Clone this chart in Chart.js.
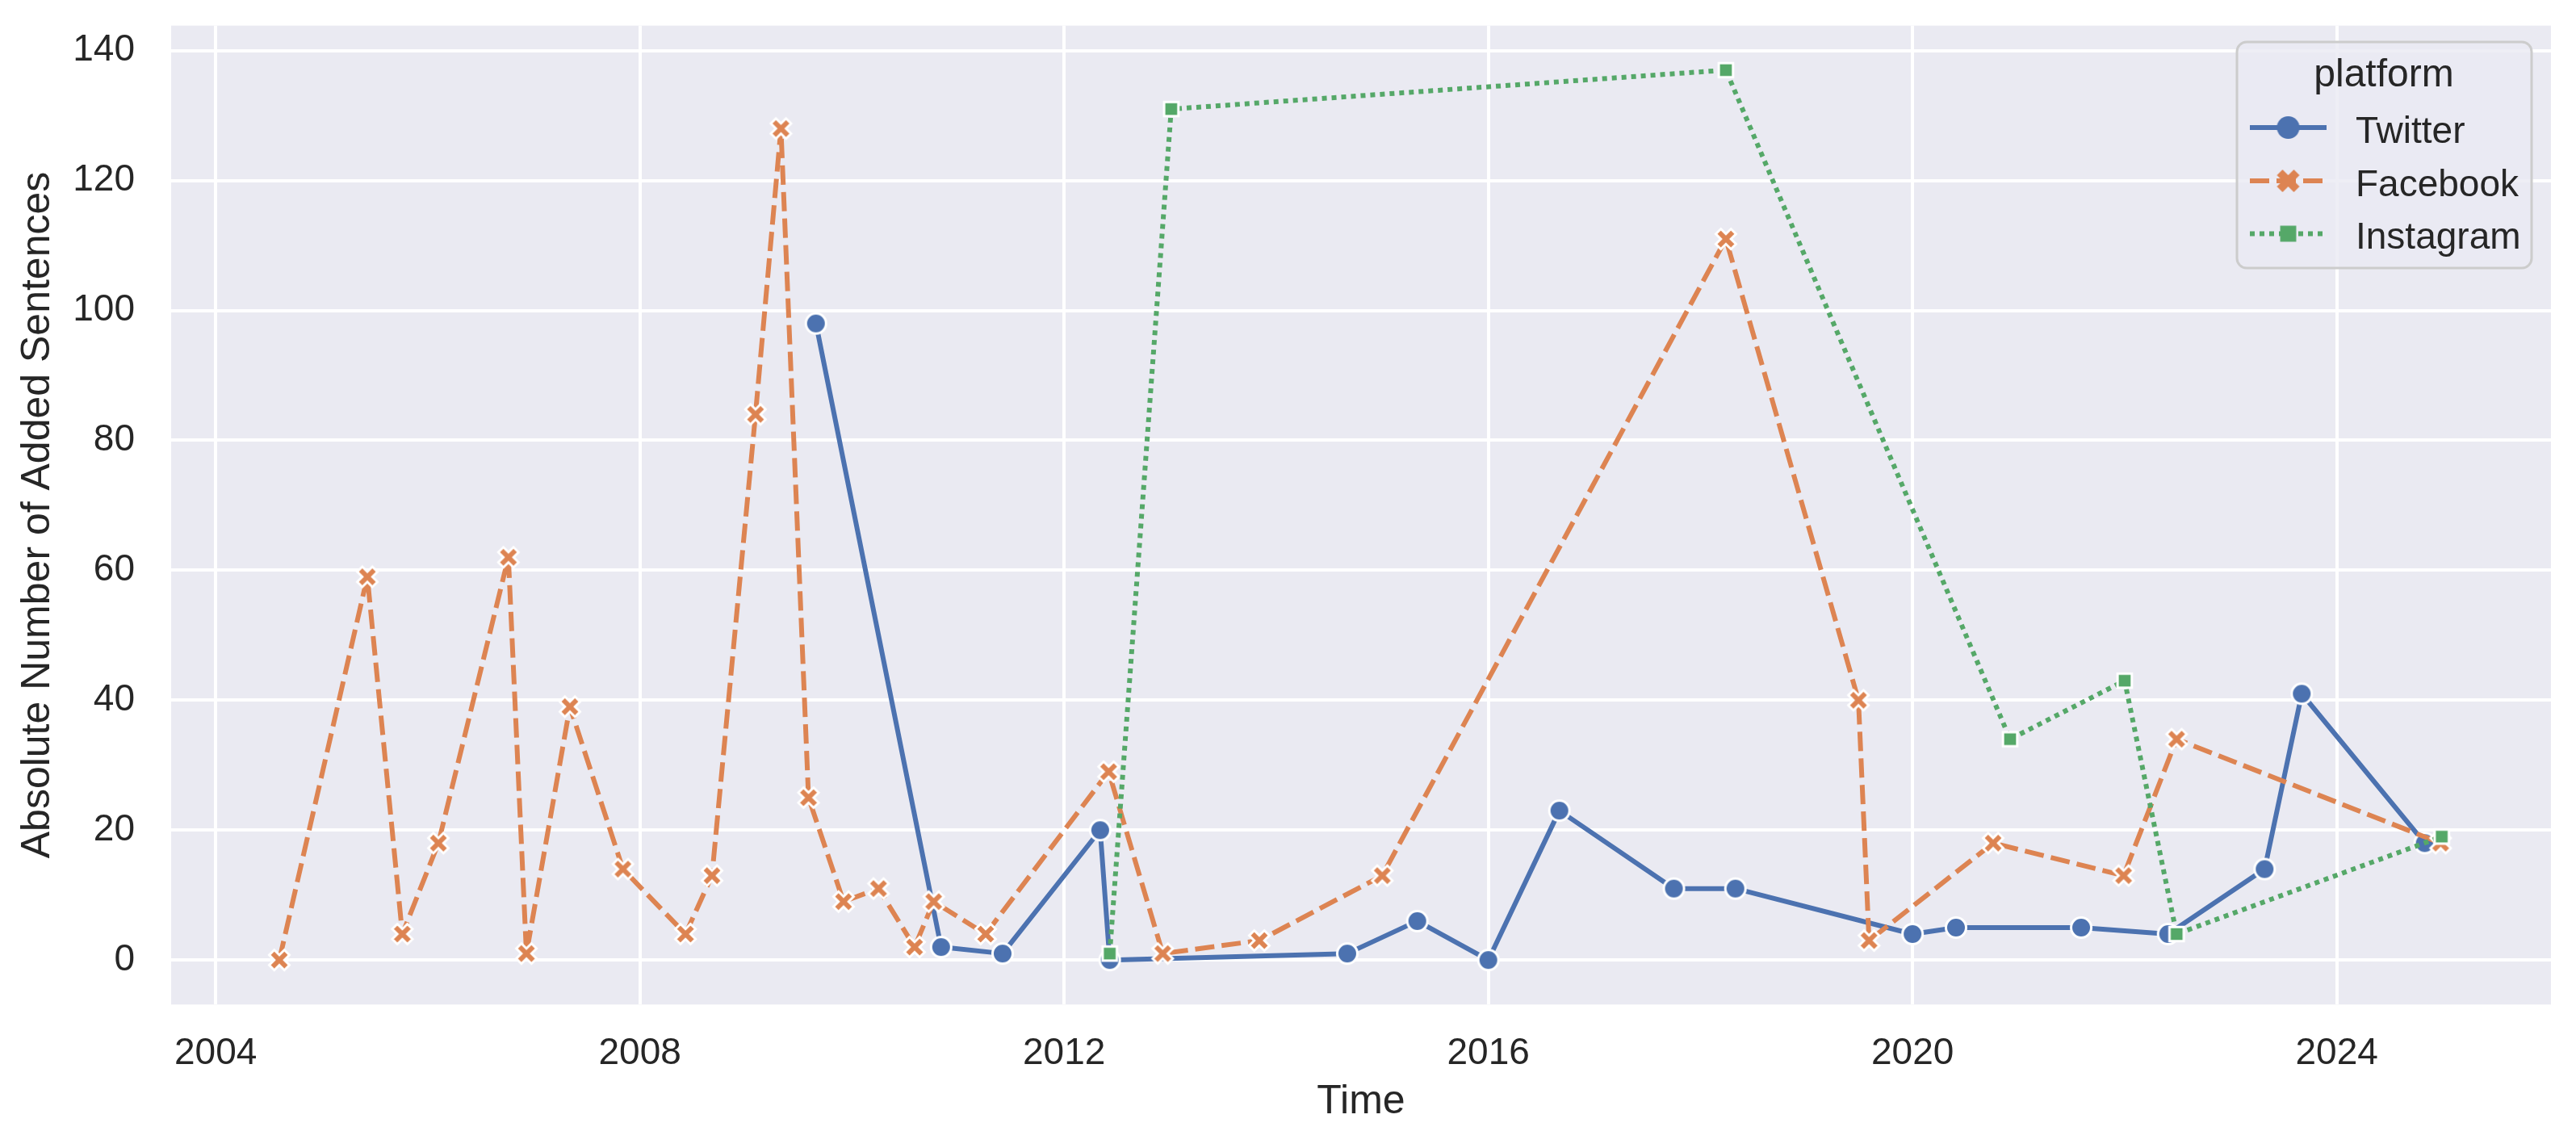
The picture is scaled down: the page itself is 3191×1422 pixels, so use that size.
<!DOCTYPE html>
<html>
<head>
<meta charset="utf-8">
<script src="https://cdn.jsdelivr.net/npm/chart.js@4.4.1/dist/chart.umd.min.js"></script>
<style>
  body { margin: 0; background: #ffffff; }
</style>
</head>
<body>
<canvas id="myChart" width="3191" height="1422"></canvas>
<script>
// Data (time as decimal years)

const twitter_time = [2009.66, 2010.84, 2011.42, 2012.34, 2012.43, 2014.67, 2015.33, 2016.00, 2016.67,
                      2017.75, 2018.33, 2020.00, 2020.41, 2021.59, 2022.41, 2023.32, 2023.67, 2024.83];
const twitter_values = [98, 2, 1, 20, 0, 1, 6, 0, 23, 11, 11, 4, 5, 5, 4, 14, 41, 18];

const facebook_time = [2004.60, 2005.43, 2005.76, 2006.10, 2006.76, 2006.93, 2007.34, 2007.84, 2008.43,
                       2008.68, 2009.09, 2009.33, 2009.59, 2009.92, 2010.25, 2010.59, 2010.77, 2011.26,
                       2012.42, 2012.93, 2013.84, 2015.00, 2018.24, 2019.49, 2019.59, 2020.76, 2021.99,
                       2022.49, 2024.98];
const facebook_values = [0, 59, 4, 18, 62, 1, 39, 14, 4, 13, 84, 128, 25, 9, 11, 2, 9, 4, 29, 1, 3, 13,
                         111, 40, 3, 18, 13, 34, 18];

const instagram_time = [2012.43, 2013.01, 2018.24, 2020.92, 2022.00, 2022.49, 2024.99];
const instagram_values = [1, 131, 137, 34, 43, 4, 19];

const year_ticks = [2004, 2008, 2012, 2016, 2020, 2024];
const value_ticks = [0, 20, 40, 60, 80, 100, 120, 140];

// Style

const FONT = '"Liberation Sans", Arial, sans-serif';
const TEXT_COLOR = '#262626';
const BLUE = '#4c72b0';
const ORANGE = '#dd8452';
const GREEN = '#55a868';

// Marker images (seaborn style: filled, white edge)

function make_marker(shape, color, scale, edge) {
  const size = 40;
  const c = document.createElement('canvas');
  c.width = size;
  c.height = size;
  const ctx = c.getContext('2d');
  ctx.translate(size / 2, size / 2);
  ctx.beginPath();
  if (shape === 'circle') {
    ctx.arc(0, 0, 12.5 * scale, 0, Math.PI * 2);
  } else if (shape === 'x') {
    const s = 25 * scale;
    const pts = [[-1, -2], [0, -1], [1, -2], [2, -1], [1, 0], [2, 1], [1, 2], [0, 1], [-1, 2], [-2, 1], [-1, 0], [-2, -1]];
    pts.forEach(([a, b], i) => {
      if (i === 0) ctx.moveTo(a / 4 * s, b / 4 * s);
      else ctx.lineTo(a / 4 * s, b / 4 * s);
    });
  } else {
    const h = 8.85 * scale;
    ctx.rect(-h, -h, 2 * h, 2 * h);
  }
  ctx.closePath();
  ctx.fillStyle = color;
  ctx.fill();
  if (edge) {
    ctx.lineWidth = 3;
    ctx.strokeStyle = '#ffffff';
    ctx.lineJoin = 'miter';
    ctx.stroke();
  }
  return c;
}

function to_points(times, values) {
  return times.map((t, i) => ({x: t, y: values[i]}));
}

const series = [
  {label: 'Twitter', times: twitter_time, values: twitter_values, color: BLUE, dash: [], shape: 'circle', order: 3},
  {label: 'Facebook', times: facebook_time, values: facebook_values, color: ORANGE, dash: [24, 9], shape: 'x', order: 2},
  {label: 'Instagram', times: instagram_time, values: instagram_values, color: GREEN, dash: [6, 6], shape: 'square', order: 1}
];

const datasets = series.map(s => ({
  label: s.label,
  data: to_points(s.times, s.values),
  borderColor: s.color,
  backgroundColor: s.color,
  borderWidth: 6,
  borderDash: s.dash,
  borderJoinStyle: 'round',
  borderCapStyle: 'butt',
  tension: 0,
  fill: false,
  pointStyle: make_marker(s.shape, s.color, 1, true),
  legendMarker: make_marker(s.shape, s.color, 1.12, false),
  pointRadius: 12,
  order: s.order
}));

// Plugins

const background_plugin = {
  id: 'darkgridBackground',
  beforeDraw(chart) {
    const {ctx, chartArea} = chart;
    ctx.save();
    ctx.fillStyle = '#ffffff';
    ctx.fillRect(0, 0, chart.width, chart.height);
    ctx.fillStyle = '#eaeaf2';
    ctx.fillRect(chartArea.left, chartArea.top, chartArea.right - chartArea.left, chartArea.bottom - chartArea.top);
    ctx.restore();
  }
};

const legend_plugin = {
  id: 'insideLegend',
  afterDatasetsDraw(chart) {
    const ctx = chart.ctx;
    const x0 = 2771, y0 = 52, x1 = 3136, y1 = 332;
    ctx.save();
    ctx.beginPath();
    ctx.roundRect(x0, y0, x1 - x0, y1 - y0, 12);
    ctx.fillStyle = 'rgba(234, 234, 242, 0.8)';
    ctx.fill();
    ctx.lineWidth = 3;
    ctx.strokeStyle = '#cccccc';
    ctx.stroke();

    ctx.fillStyle = TEXT_COLOR;
    ctx.textAlign = 'center';
    ctx.textBaseline = 'alphabetic';
    ctx.font = '48px ' + FONT;
    ctx.fillText('platform', 2953, 107);

    const rows = [158, 224, 289.5];
    ctx.textAlign = 'left';
    ctx.font = '46px ' + FONT;
    chart.data.datasets.forEach((ds, i) => {
      const cy = rows[i];
      ctx.beginPath();
      ctx.setLineDash(ds.borderDash);
      ctx.lineDashOffset = 0;
      ctx.lineWidth = 6;
      ctx.lineCap = 'butt';
      ctx.strokeStyle = ds.borderColor;
      ctx.moveTo(2787, cy);
      ctx.lineTo(2882, cy);
      ctx.stroke();
      ctx.setLineDash([]);
      const m = ds.legendMarker;
      ctx.drawImage(m, 2834.5 - m.width / 2, cy - m.height / 2);
      ctx.fillStyle = TEXT_COLOR;
      ctx.fillText(ds.label, 2918, cy + 18.5);
    });
    ctx.restore();
  }
};

// Chart

const ctx = document.getElementById('myChart').getContext('2d');

const myChart = new Chart(ctx, {
  type: 'line',
  data: {datasets: datasets},
  plugins: [background_plugin, legend_plugin],
  options: {
    responsive: false,
    animation: false,
    devicePixelRatio: 1,
    events: [],
    layout: {padding: {top: 31.7, right: 31, left: 0, bottom: 0}},
    plugins: {
      legend: {display: false},
      tooltip: {enabled: false}
    },
    scales: {
      x: {
        type: 'linear',
        min: 2003.58,
        max: 2026.02,
        afterBuildTicks: axis => { axis.ticks = year_ticks.map(v => ({value: v})); },
        afterFit: axis => {
          axis.height = 1422 - 1244.3;
          axis.paddingLeft = 0;
          axis.paddingRight = 0;
        },
        border: {display: false},
        grid: {color: '#ffffff', lineWidth: 4, drawTicks: false},
        ticks: {
          color: TEXT_COLOR,
          padding: 33,
          autoSkip: false,
          maxRotation: 0,
          font: {size: 46, family: FONT},
          callback: v => String(v)
        },
        title: {
          display: true,
          text: 'Time',
          color: TEXT_COLOR,
          font: {size: 50, family: FONT},
          padding: {top: 0, bottom: 27}
        }
      },
      y: {
        type: 'linear',
        min: -6.85,
        max: 143.85,
        afterBuildTicks: axis => { axis.ticks = value_ticks.map(v => ({value: v})); },
        afterFit: axis => {
          axis.width = 212;
          axis.paddingTop = 0;
          axis.paddingBottom = 0;
        },
        border: {display: false},
        grid: {color: '#ffffff', lineWidth: 4, drawTicks: false},
        ticks: {
          color: TEXT_COLOR,
          padding: 45,
          font: {size: 46, family: FONT},
          callback: v => String(v)
        },
        title: {
          display: true,
          text: 'Absolute Number of Added Sentences',
          color: TEXT_COLOR,
          font: {size: 50, family: FONT},
          padding: {top: 17, bottom: 0}
        }
      }
    }
  }
});
</script>
</body>
</html>
